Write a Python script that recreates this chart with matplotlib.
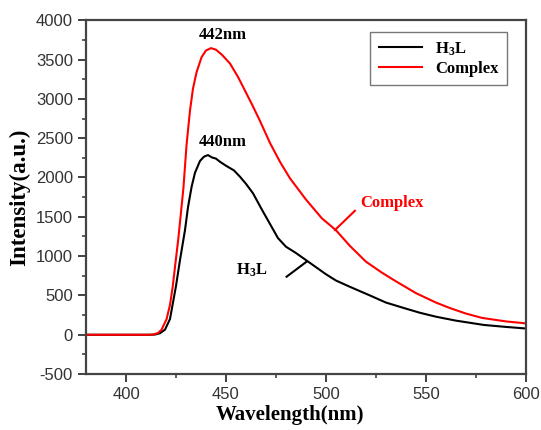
import numpy as np
import matplotlib.pyplot as plt

plt.rcParams['mathtext.fontset'] = 'custom'
plt.rcParams['mathtext.rm'] = 'Liberation Serif:bold'
plt.rcParams['mathtext.it'] = 'Liberation Serif:bold'
plt.rcParams['mathtext.bf'] = 'Liberation Serif:bold'
plt.rcParams['axes.unicode_minus'] = False

# emission spectra
wl_h3l = [380, 412, 414.5, 417, 419.5, 422, 425, 427, 429.5, 431, 432.8,
          434.5, 437, 439, 441, 443, 445, 447, 450, 454, 457, 460, 463.5, 468, 472,
          476, 480, 485, 490, 495, 500, 505, 512, 522, 530, 539, 547, 555, 565,
          579, 590, 600]
int_h3l = [0, 0, 3, 20, 65, 200, 620, 950, 1330, 1620, 1880,
           2060, 2210, 2265, 2285, 2255, 2240, 2200, 2150, 2090, 2010, 1920, 1800, 1590, 1410,
           1230, 1120, 1040, 950, 860, 770, 690, 610, 500, 410, 340, 280, 230, 180,
           125, 100, 80]

wl_cplx = [380, 411, 413.5, 416, 417.8, 420.3, 422, 423.3, 426.2, 428.7, 430.3,
           432, 433.5, 435.3, 437.8, 440, 442.5, 445, 448, 452, 456, 460, 463, 467, 472,
           477, 482, 490, 498, 505, 512, 520, 528, 535, 545, 555, 562, 570, 578,
           590, 600]
int_cplx = [0, 0, 3, 22, 65, 200, 380, 600, 1230, 1860, 2420,
            2850, 3130, 3340, 3530, 3615, 3645, 3625, 3560, 3450, 3280, 3080, 2930, 2720, 2440,
            2200, 1990, 1720, 1480, 1330, 1130, 930, 790, 680, 530, 410, 340, 270, 215,
            170, 145]

fig = plt.figure(figsize=(5.41, 4.30), dpi=100)
ax = fig.add_axes([0.159, 0.130, 0.813, 0.823])

ax.plot(wl_h3l, int_h3l, color='black', lw=1.5, label='H$_3$L')
ax.plot(wl_cplx, int_cplx, color='red', lw=1.5, label='Complex')

ax.set_xlim(380, 600)
ax.set_ylim(-500, 4000)
ax.set_xticks([400, 450, 500, 550, 600])
ax.set_xticks(np.arange(425, 600, 50), minor=True)
ax.set_yticks(np.arange(-500, 4001, 500))
ax.set_yticks(np.arange(-250, 4000, 500), minor=True)
ax.tick_params(which='major', direction='out', length=6, width=1.3, color='#333333',
               labelsize=12, top=False, right=False)
ax.tick_params(which='minor', direction='out', length=3, width=1.1, color='#333333')
for lab in ax.get_xticklabels() + ax.get_yticklabels():
    lab.set_fontfamily('Liberation Sans')
    lab.set_color('#333333')
for sp in ax.spines.values():
    sp.set_linewidth(1.6)
    sp.set_color('#444444')

serif = {'family': 'Liberation Serif', 'weight': 'bold'}
ax.set_xlabel('Wavelength(nm)', fontdict=serif, fontsize=15, labelpad=2)
ax.xaxis.set_label_coords(0.464, -0.088)
ax.set_ylabel('Intensity(a.u.)', fontdict=serif, fontsize=16.5, labelpad=4)

ax.text(448.5, 3812, '442nm', ha='center', va='center', fontdict=serif, fontsize=12)
ax.text(448.5, 2455, '440nm', ha='center', va='center', fontdict=serif, fontsize=12)
ax.text(517, 1675, 'Complex', ha='left', va='center', fontdict=serif, fontsize=12, color='red')
ax.plot([514.5, 504.5], [1577, 1332], color='red', lw=1.5)
ax.text(463, 823, 'H$_3$L', ha='center', va='center', fontdict=serif, fontsize=12)
ax.plot([490.3, 480.3], [929, 738], color='black', lw=1.5)

leg = ax.legend(loc='upper right', bbox_to_anchor=(0.9575, 0.967), borderaxespad=0,
                prop={**serif, 'size': 12}, fancybox=False, edgecolor='#555555',
                handlelength=2.6, borderpad=0.5, labelspacing=0.2)
leg.get_frame().set_linewidth(1.0)

fig.savefig('out.png', dpi=100)
